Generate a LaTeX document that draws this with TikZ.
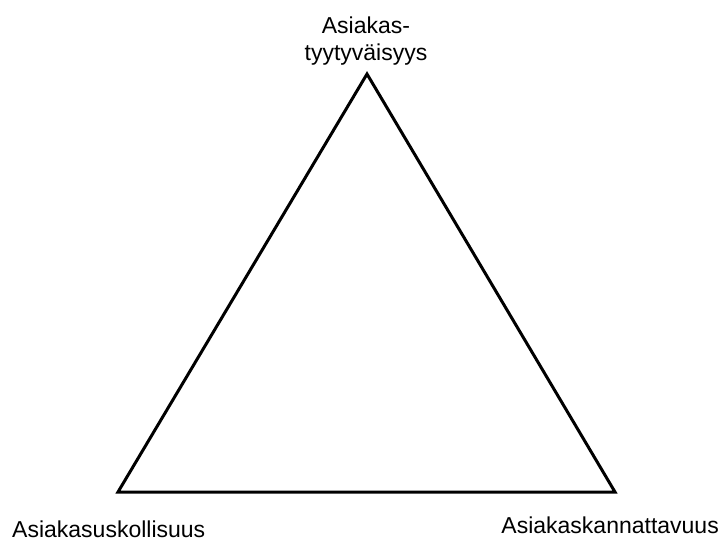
\documentclass[tikz,border=0pt]{standalone}
\usepackage{fontspec}
\setmainfont{Liberation Sans}
\begin{document}
\begin{tikzpicture}[x=1pt,y=-1pt,
  lbl/.style={inner sep=0pt,font=\fontsize{23}{27}\selectfont},
  tri/.style={draw=black,line width=3pt,line join=miter}]
\useasboundingbox[fill=white] (0,0) rectangle (722,538);
\coordinate (apex) at (367,74);
\coordinate (bl) at (118,492);
\coordinate (br) at (615,492);
\draw[tri] (apex) -- (bl) -- (br) -- cycle;
\node[lbl,anchor=base] (top1) at (366,33) {Asiakas-};
\node[lbl,anchor=base] (top2) at (366,60) {tyytyväisyys};
\node[lbl,anchor=base west] (left) at (12,537) {Asiakasuskollisuus};
\node[lbl,anchor=base east] (right) at (719,533) {Asiakaskannattavuus};
\end{tikzpicture}
\end{document}
